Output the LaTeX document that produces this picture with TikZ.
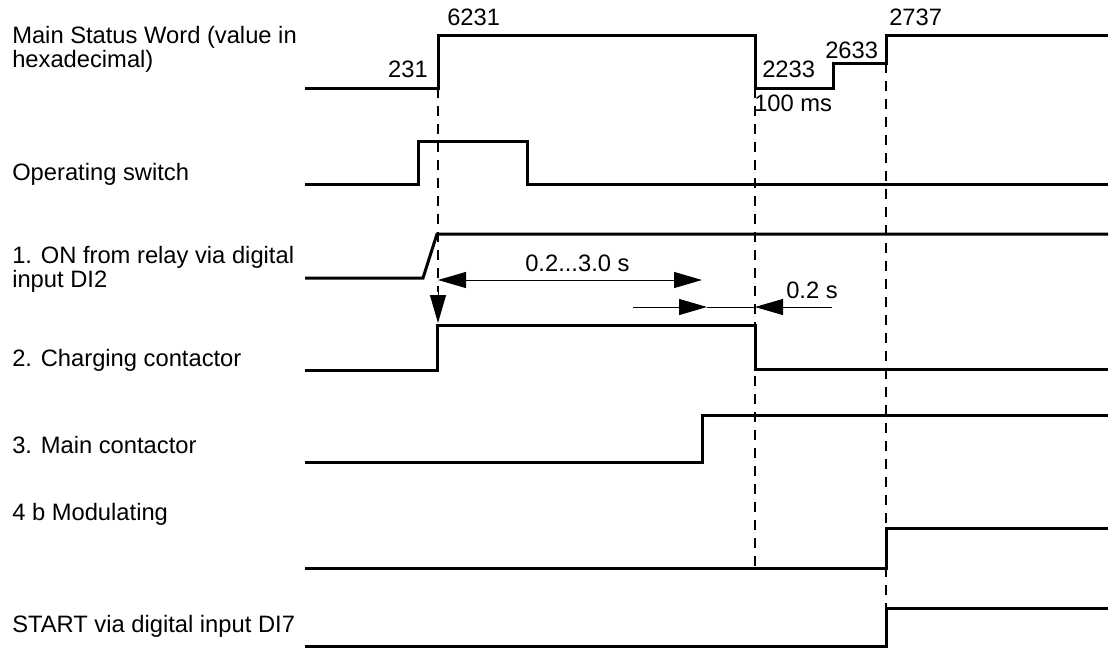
\documentclass[tikz,border=0pt]{standalone}
\usepackage{fontspec}
\setmainfont{Liberation Sans}
\usetikzlibrary{arrows.meta}
\begin{document}
\begin{tikzpicture}[x=0.75pt,y=-0.75pt,
  sig/.style={line width=2.25pt,line join=miter},
  dash line/.style={line width=1.5pt,dash pattern=on 7.5pt off 6pt},
  dim/.style={line width=0.75pt},
  tip/.style={-{Triangle[length=21pt,width=12pt]}},
  lbl/.style={inner sep=0pt,anchor=base west,font=\fontsize{17.8}{18}\selectfont},
  val/.style={inner sep=0pt,anchor=base west,font=\fontsize{17.8}{18}\selectfont}]
\useasboundingbox (0,0) rectangle (1109,650);
% left labels
\node[lbl] (l1a) at (12,43) {Main Status Word (value in};
\node[lbl] (l1b) at (12,67) {hexadecimal)};
\node[lbl] (l2) at (12,180) {Operating switch};
\node[lbl] (l3a) at (12,263) {1. ON from relay via digital};
\node[lbl] (l3b) at (12,287) {input DI2};
\node[lbl] (l4) at (12,366) {2. Charging contactor};
\node[lbl] (l5) at (12,453) {3. Main contactor};
\node[lbl] (l6) at (12,520) {4 b Modulating};
\node[lbl] (l7) at (12,632) {START via digital input DI7};
% status values
\node[val,anchor=base east] (v231) at (428,77) {231};
\node[val] (v6231) at (447,25) {6231};
\node[val] (v2233) at (762,77) {2233};
\node[val] (v2633) at (825,58) {2633};
\node[val] (v2737) at (889,25) {2737};
\node[val] (v100) at (754,111) {100 ms};
\node[val] (t1) at (525,271) {0.2...3.0 s};
\node[val] (t2) at (786,298) {0.2 s};
% waveforms
\draw[sig] (305,88) -- (438,88) -- (438,35) -- (755,35) -- (755,88) -- (833,88) -- (833,63) -- (886,63) -- (886,35) -- (1108,35);
\draw[sig] (305,184) -- (418,184) -- (418,141) -- (527,141) -- (527,184) -- (1108,184);
\draw[sig] (305,278) -- (423,278) -- (437,234) -- (1108,234);
\draw[sig] (305,370) -- (437,370) -- (437,325) -- (755,325) -- (755,369) -- (1108,369);
\draw[sig] (305,462) -- (702,462) -- (702,415) -- (1108,415);
\draw[sig] (305,568) -- (886,568) -- (886,528) -- (1108,528);
\draw[sig] (305,646) -- (886,646) -- (886,608) -- (1108,608);
% dashed markers
\coordinate (d1a) at (438,88); \coordinate (d1b) at (438,292);
\coordinate (d2a) at (755,88); \coordinate (d2b) at (755,570);
\coordinate (d3a) at (886,63); \coordinate (d3b) at (886,607);
\draw[dash line] (d1a) -- (d1b);
\draw[dash line] (d2a) -- (d2b);
\draw[dash line] (d3a) -- (d3b);
% dimension arrows
\coordinate (downtip) at (438,323);
\draw[dim,tip] (d1b) -- (downtip);
\coordinate (a1l) at (438,280); \coordinate (a1r) at (702,280);
\draw[dim,{Triangle[length=21pt,width=12pt]}-{Triangle[length=21pt,width=12pt]}] (a1l) -- (a1r);
\coordinate (b0) at (633,307); \coordinate (b1) at (707,307);
\coordinate (b2) at (755,307); \coordinate (b3) at (832,307);
\draw[dim,tip] (b0) -- (b1);
\draw[dim] (b1) -- (b2);
\draw[dim,tip] (b3) -- (b2);
\end{tikzpicture}
\end{document}
